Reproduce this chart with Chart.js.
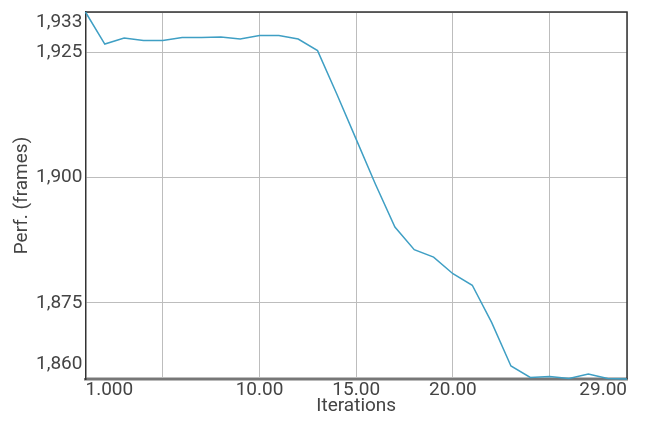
<!DOCTYPE html>
<html>
<head>
<meta charset="utf-8">
<script src="https://cdn.jsdelivr.net/npm/chart.js@4/dist/chart.umd.min.js"></script>
<style>
  html, body { margin: 0; padding: 0; background: #fff; }
  #wrap { width: 663px; height: 422px; }
</style>
</head>
<body>
<div id="wrap"><canvas id="myChart"></canvas></div>
<script>
const iterations = [1, 2, 3, 4, 5, 6, 7, 8, 9, 10, 11, 12, 13, 14, 15, 16, 17, 18, 19, 20, 21, 22, 23, 24, 25, 26, 27, 28, 29];
const perf = [1933, 1926.6, 1927.8, 1927.3, 1927.3, 1927.9, 1927.9, 1928.0, 1927.6, 1928.3, 1928.3, 1927.6, 1925.3,
    1916.6, 1907.6, 1898.6, 1890.1, 1885.6, 1884.1, 1880.8, 1878.5, 1871.1, 1862.4, 1860.1, 1860.3, 1859.9, 1860.8, 1859.9, 1859.8];
const xTicks = [1, 5, 10, 15, 20, 25, 29];
const xLabelled = [1, 10, 15, 20, 29];
const yTicks = [1860, 1875, 1900, 1925, 1933];

const textColor = '#444';
const gridColor = '#bdbdbd';

// top and right edges of the plot box
const boxEdges = {
    id: 'boxEdges',
    beforeDatasetsDraw(chart) {
        const {ctx, chartArea: a} = chart;
        ctx.save();
        ctx.strokeStyle = '#333';
        ctx.lineWidth = 1.5;
        ctx.beginPath();
        ctx.moveTo(a.left, a.top);
        ctx.lineTo(a.right, a.top);
        ctx.lineTo(a.right, a.bottom);
        ctx.stroke();
        ctx.restore();
    }
};

const ctx = document.getElementById('myChart');
new Chart(ctx, {
    type: 'line',
    data: {
        datasets: [{
            data: iterations.map((it, i) => ({x: it, y: perf[i]})),
            borderColor: '#3f9fc4',
            borderWidth: 1.5,
            pointRadius: 0,
            tension: 0,
            clip: false
        }]
    },
    options: {
        responsive: true,
        maintainAspectRatio: false,
        animation: false,
        layout: {padding: {left: 13, top: 12, right: 36, bottom: 12}},
        plugins: {legend: {display: false}, tooltip: {enabled: false}},
        scales: {
            x: {
                type: 'linear',
                min: 1,
                max: 29,
                afterBuildTicks: scale => { scale.ticks = xTicks.map(v => ({value: v})); },
                grid: {color: gridColor, drawTicks: false},
                border: {color: '#777', width: 2.5},
                ticks: {
                    autoSkip: false,
                    maxRotation: 0,
                    align: 'inner',
                    padding: 2,
                    color: textColor,
                    font: {family: 'Roboto', size: 19, lineHeight: '19px'},
                    callback: v => xLabelled.includes(v) ? v.toPrecision(4) : ''
                },
                title: {
                    display: true,
                    text: 'Iterations',
                    color: textColor,
                    padding: {top: 0, bottom: 0},
                    font: {family: 'Roboto', size: 19, lineHeight: '8px'}
                }
            },
            y: {
                min: 1859.8,
                max: 1933,
                afterBuildTicks: scale => { scale.ticks = yTicks.map(v => ({value: v})); },
                afterFit: scale => { scale.paddingTop = 0; scale.paddingBottom = 0; },
                grid: {color: gridColor, drawTicks: false},
                border: {color: '#333', width: 1.5},
                ticks: {
                    autoSkip: false,
                    padding: 3,
                    color: textColor,
                    font: c => {
                        const v = c.tick ? c.tick.value : null;
                        let lh = '23px';
                        if (v === 1933) lh = '20px';
                        if (v === 1860) lh = '28px';
                        return {family: 'Roboto', size: 19, lineHeight: lh};
                    },
                    callback: v => {
                        const s = v.toLocaleString('en-US');
                        if (v === 1933) return ['', s];
                        if (v === 1860) return [s, ''];
                        return s;
                    }
                },
                title: {
                    display: true,
                    text: 'Perf. (frames)',
                    color: textColor,
                    padding: {top: 0, bottom: 1},
                    font: {family: 'Roboto', size: 19, lineHeight: '19px'}
                }
            }
        }
    },
    plugins: [boxEdges]
});
</script>
</body>
</html>
